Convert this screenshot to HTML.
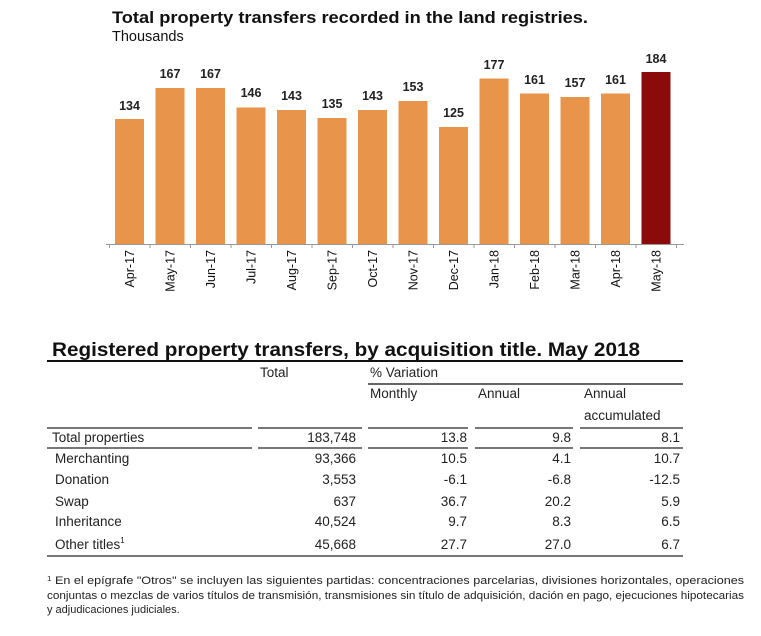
<!DOCTYPE html>
<html><head><meta charset="utf-8"><style>
body{margin:0;background:#fff;width:761px;height:636px;overflow:hidden}
svg{display:block;font-family:"Liberation Sans",Arial,sans-serif}
</style></head><body>
<svg width="761" height="636" viewBox="0 0 761 636">
<text x="112" y="23" font-size="17" font-weight="bold" fill="#111" textLength="476" lengthAdjust="spacingAndGlyphs">Total property transfers recorded in the land registries.</text>
<text x="112" y="41" font-size="14.5" fill="#111">Thousands</text>
<g font-size="12.5" font-weight="bold" fill="#222" text-anchor="middle">
<rect x="115" y="119" width="29" height="125" fill="#E8944B"/><text x="129.5" y="110">134</text>
<rect x="155.5" y="88" width="29" height="156" fill="#E8944B"/><text x="170" y="78">167</text>
<rect x="196" y="88" width="29" height="156" fill="#E8944B"/><text x="210.5" y="78">167</text>
<rect x="236.5" y="107.5" width="29" height="136.5" fill="#E8944B"/><text x="251" y="97">146</text>
<rect x="277" y="110" width="29" height="134" fill="#E8944B"/><text x="291.5" y="100">143</text>
<rect x="317.5" y="118" width="29" height="126" fill="#E8944B"/><text x="332" y="108">135</text>
<rect x="358" y="110" width="29" height="134" fill="#E8944B"/><text x="372.5" y="100">143</text>
<rect x="398.5" y="101" width="29" height="143" fill="#E8944B"/><text x="413" y="91">153</text>
<rect x="439" y="127" width="29" height="117" fill="#E8944B"/><text x="453.5" y="117">125</text>
<rect x="479.5" y="78.5" width="29" height="165.5" fill="#E8944B"/><text x="494" y="69">177</text>
<rect x="520" y="93.5" width="29" height="150.5" fill="#E8944B"/><text x="534.5" y="84">161</text>
<rect x="560.5" y="97" width="29" height="147" fill="#E8944B"/><text x="575" y="87">157</text>
<rect x="601" y="93.5" width="29" height="150.5" fill="#E8944B"/><text x="615.5" y="84">161</text>
<rect x="641.5" y="72" width="29" height="172" fill="#8B0A0A"/><text x="656" y="63">184</text>
</g>
<line x1="106" y1="244.5" x2="684" y2="244.5" stroke="#999" stroke-width="1"/>
<g stroke="#999" stroke-width="1">
<line x1="109.5" y1="244" x2="109.5" y2="248"/><line x1="150" y1="244" x2="150" y2="248"/><line x1="190.5" y1="244" x2="190.5" y2="248"/><line x1="231" y1="244" x2="231" y2="248"/><line x1="271.5" y1="244" x2="271.5" y2="248"/><line x1="312" y1="244" x2="312" y2="248"/><line x1="352.5" y1="244" x2="352.5" y2="248"/><line x1="393" y1="244" x2="393" y2="248"/><line x1="433.5" y1="244" x2="433.5" y2="248"/><line x1="474" y1="244" x2="474" y2="248"/><line x1="514.5" y1="244" x2="514.5" y2="248"/><line x1="555" y1="244" x2="555" y2="248"/><line x1="595.5" y1="244" x2="595.5" y2="248"/><line x1="636" y1="244" x2="636" y2="248"/><line x1="676.5" y1="244" x2="676.5" y2="248"/>
</g>
<g font-size="12.5" fill="#111" text-anchor="end">
<text transform="translate(134,250) rotate(-90)">Apr-17</text>
<text transform="translate(174.5,250) rotate(-90)">May-17</text>
<text transform="translate(215,250) rotate(-90)">Jun-17</text>
<text transform="translate(255.5,250) rotate(-90)">Jul-17</text>
<text transform="translate(296,250) rotate(-90)">Aug-17</text>
<text transform="translate(336.5,250) rotate(-90)">Sep-17</text>
<text transform="translate(377,250) rotate(-90)">Oct-17</text>
<text transform="translate(417.5,250) rotate(-90)">Nov-17</text>
<text transform="translate(458,250) rotate(-90)">Dec-17</text>
<text transform="translate(498.5,250) rotate(-90)">Jan-18</text>
<text transform="translate(539,250) rotate(-90)">Feb-18</text>
<text transform="translate(579.5,250) rotate(-90)">Mar-18</text>
<text transform="translate(620,250) rotate(-90)">Apr-18</text>
<text transform="translate(660.5,250) rotate(-90)">May-18</text>
</g>
<text x="52" y="356" font-size="19.5" font-weight="bold" fill="#111" textLength="588" lengthAdjust="spacingAndGlyphs">Registered property transfers, by acquisition title. May 2018</text>
<line x1="47" y1="361" x2="683" y2="361" stroke="#111" stroke-width="2"/>
<g font-size="13.5" fill="#222">
<text x="260" y="377">Total</text>
<text x="370" y="377">% Variation</text>
<text x="370" y="398">Monthly</text>
<text x="478" y="398">Annual</text>
<text x="584" y="398">Annual</text>
<text x="584" y="420">accumulated</text>
</g>
<line x1="368" y1="384" x2="683" y2="384" stroke="#333" stroke-width="1.5"/>
<g stroke="#777" stroke-width="2">
<line x1="47" y1="428" x2="252" y2="428"/><line x1="258" y1="428" x2="362" y2="428"/><line x1="368" y1="428" x2="468" y2="428"/><line x1="475" y1="428" x2="573" y2="428"/><line x1="580" y1="428" x2="683" y2="428"/>
<line x1="47" y1="448" x2="252" y2="448"/><line x1="258" y1="448" x2="362" y2="448"/><line x1="368" y1="448" x2="468" y2="448"/><line x1="475" y1="448" x2="573" y2="448"/><line x1="580" y1="448" x2="683" y2="448"/>
<line x1="47" y1="556" x2="683" y2="556"/>
</g>
<g font-size="13.5" fill="#222">
<text x="52" y="442">Total properties</text>
<text x="55" y="463">Merchanting</text>
<text x="55" y="484">Donation</text>
<text x="55" y="506">Swap</text>
<text x="55" y="526">Inheritance</text>
<text x="55" y="549">Other titles<tspan font-size="8" dy="-6">1</tspan></text>
</g>
<g font-size="13.5" fill="#222" text-anchor="end">
<text x="356" y="442">183,748</text><text x="467" y="442">13.8</text><text x="571" y="442">9.8</text><text x="680" y="442">8.1</text>
<text x="356" y="463">93,366</text><text x="467" y="463">10.5</text><text x="571" y="463">4.1</text><text x="680" y="463">10.7</text>
<text x="356" y="484">3,553</text><text x="467" y="484">-6.1</text><text x="571" y="484">-6.8</text><text x="680" y="484">-12.5</text>
<text x="356" y="506">637</text><text x="467" y="506">36.7</text><text x="571" y="506">20.2</text><text x="680" y="506">5.9</text>
<text x="356" y="526">40,524</text><text x="467" y="526">9.7</text><text x="571" y="526">8.3</text><text x="680" y="526">6.5</text>
<text x="356" y="549">45,668</text><text x="467" y="549">27.7</text><text x="571" y="549">27.0</text><text x="680" y="549">6.7</text>
</g>
<g font-size="11" fill="#222">
<text x="47" y="584" textLength="697" lengthAdjust="spacingAndGlyphs"><tspan font-size="7" dy="-3">1</tspan><tspan dy="3"> En el epígrafe "Otros" se incluyen las siguientes partidas: concentraciones parcelarias, divisiones horizontales, operaciones</tspan></text>
<text x="47" y="599" textLength="697" lengthAdjust="spacingAndGlyphs">conjuntas o mezclas de varios títulos de transmisión, transmisiones sin título de adquisición, dación en pago, ejecuciones hipotecarias</text>
<text x="47" y="613">y adjudicaciones judiciales.</text>
</g>
</svg>
</body></html>
